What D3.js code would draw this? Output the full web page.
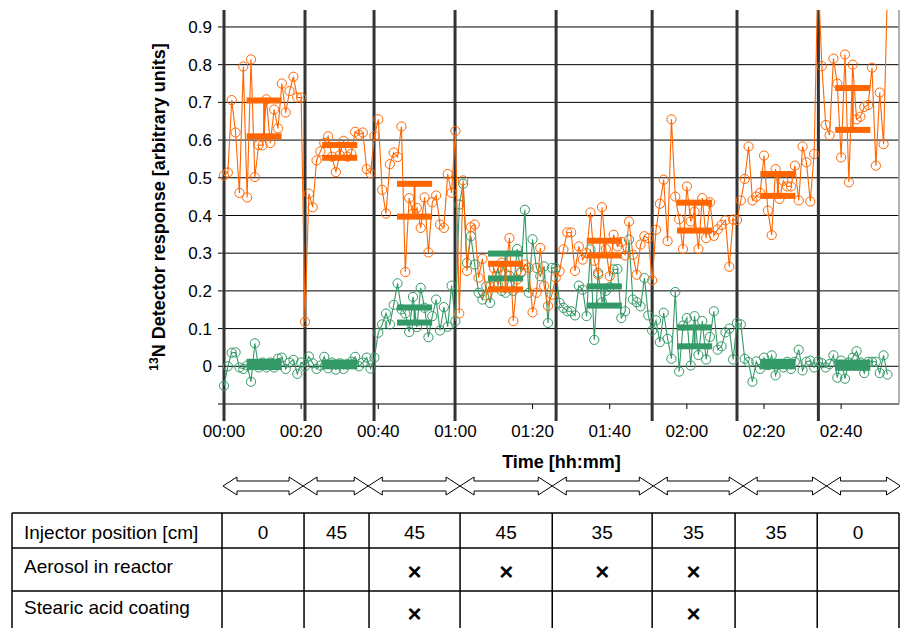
<!DOCTYPE html>
<html>
<head>
<meta charset="utf-8">
<script src="https://cdn.jsdelivr.net/npm/d3@7/dist/d3.min.js"></script>
<style>
  body { margin: 0; background: #fff; }
  svg text { font-family: "Liberation Sans", Arial, sans-serif; fill: #000; }
</style>
</head>
<body>
<div id="chart"></div>
<script>
// detector readings, one sample per minute starting at 00:00
var orangeSeries = [
  0.506, 0.514, 0.706, 0.62, 0.46, 0.795, 0.448, 0.814, 0.502, 0.587,
  0.586, 0.708, 0.592, 0.681, 0.631, 0.75, 0.673, 0.73, 0.768, 0.713,
  0.713, 0.118, 0.458, 0.422, 0.546, 0.57, 0.592, 0.61, 0.556, 0.515,
  0.56, 0.598, 0.556, 0.564, 0.622, 0.614, 0.62, 0.523, 0.512, 0.611,
  0.655, 0.468, 0.405, 0.536, 0.567, 0.555, 0.636, 0.25, 0.446, 0.405,
  0.42, 0.367, 0.448, 0.302, 0.435, 0.453, 0.376, 0.367, 0.51, 0.46,
  0.624, 0.14, 0.493, 0.253, 0.369, 0.376, 0.235, 0.285, 0.188, 0.212,
  0.26, 0.215, 0.275, 0.245, 0.34, 0.12, 0.23, 0.248, 0.27, 0.261,
  0.143, 0.195, 0.314, 0.213, 0.16, 0.19, 0.235, 0.252, 0.31, 0.355,
  0.355, 0.253, 0.318, 0.283, 0.3, 0.408, 0.28, 0.243, 0.422, 0.311,
  0.239, 0.349, 0.318, 0.33, 0.294, 0.384, 0.296, 0.243, 0.323, 0.345,
  0.34, 0.228, 0.362, 0.431, 0.495, 0.332, 0.655, 0.45, 0.39, 0.311,
  0.477, 0.384, 0.41, 0.311, 0.446, 0.34, 0.435, 0.346, 0.363, 0.375,
  0.387, 0.264, 0.389, 0.388, 0.44, 0.497, 0.583, 0.44, 0.45, 0.46,
  0.559, 0.413, 0.348, 0.523, 0.444, 0.492, 0.477, 0.477, 0.532, 0.44,
  0.583, 0.541, 0.437, 0.563, 1.05, 0.796, 0.64, 0.613, 0.816, 0.75,
  0.554, 0.827, 0.488, 0.8, 0.655, 0.662, 0.688, 0.693, 0.792, 0.532,
  0.726, 0.589, 1.0
];
var greenSeries = [
  -0.052, 0.0, 0.036, 0.037, -0.003, -0.007, 0.002, -0.041, 0.061, -0.003,
  0.01, -0.003, 0.01, -0.003, 0.02, 0.023, -0.007, 0.01, 0.017, -0.02,
  0.01, 0.0, 0.026, 0.008, -0.007, 0.002, 0.025, -0.005, 0.01, -0.009,
  0.008, -0.007, 0.005, 0.012, 0.025, 0.0, 0.01, 0.023, -0.006, 0.023,
  0.089, 0.111, 0.14, 0.111, 0.163, 0.22, 0.151, 0.14, 0.091, 0.184,
  0.104, 0.208, 0.155, 0.077, 0.133, 0.177, 0.095, 0.157, 0.105, 0.214,
  0.12, 0.429, 0.484, 0.274, 0.345, 0.27, 0.195, 0.177, 0.212, 0.168,
  0.22, 0.261, 0.2, 0.195, 0.24, 0.2, 0.311, 0.25, 0.415, 0.195,
  0.337, 0.261, 0.239, 0.265, 0.115, 0.261, 0.261, 0.168, 0.155, 0.146,
  0.146, 0.135, 0.214, 0.203, 0.133, 0.31, 0.07, 0.248, 0.17, 0.2,
  0.21, 0.257, 0.258, 0.128, 0.146, 0.336, 0.177, 0.17, 0.159, 0.234,
  0.135, 0.095, 0.122, 0.064, 0.142, 0.073, 0.02, 0.197, -0.014, 0.108,
  0.128, 0.002, 0.133, 0.03, 0.12, 0.018, 0.078, 0.146, 0.044, 0.053,
  0.09, 0.1, 0.018, 0.115, 0.111, 0.02, 0.011, -0.041, 0.013, -0.007,
  0.023, 0.003, 0.029, -0.024, 0.005, -0.003, 0.012, -0.007, 0.012, 0.044,
  -0.011, 0.012, 0.015, -0.003, 0.013, 0.008, -0.003, 0.006, 0.029, -0.03,
  0.015, -0.033, 0.01, 0.023, 0.04, 0.01, -0.018, 0.012, 0.012, 0.012,
  -0.018, 0.029, -0.022
];

// mean +/- spread per condition (minutes)
var barCenters = [10.4, 30, 49.4, 73, 98.6, 122, 143.6, 163];
var orangeHigh = [0.705, 0.587, 0.484, 0.272, 0.333, 0.434, 0.51, 0.738];
var orangeLow  = [0.61, 0.553, 0.397, 0.204, 0.294, 0.36, 0.452, 0.627];
var greenHigh  = [0.012, 0.01, 0.156, 0.299, 0.212, 0.103, 0.012, 0.01];
var greenLow   = [-0.002, 0.0, 0.116, 0.233, 0.161, 0.053, 0.0, -0.004];

var separators = [0, 21, 38.9, 59.9, 86.1, 111, 133, 154.1];
var yTicks = [-0.1, 0, 0.1, 0.2, 0.3, 0.4, 0.5, 0.6, 0.7, 0.8, 0.9];
var xTicks = [0, 20, 40, 60, 80, 100, 120, 140, 160];
var xTickLabels = ["00:00", "00:20", "00:40", "01:00", "01:20", "01:40", "02:00", "02:20", "02:40"];

var arrowEdges = [-0.26, 20.5, 37.4, 61.2, 85.1, 111.3, 134.6, 156.2, 175.4];
var tableEdges = [-0.52, 20.75, 37.6, 61.2, 85.1, 111, 132.5, 153.8, 175];
var rowLabels = ["Injector position [cm]", "Aerosol in reactor", "Stearic acid coating"];
var injectorPos = ["0", "45", "45", "45", "35", "35", "35", "0"];
var aerosol = [0, 0, 1, 1, 1, 1, 0, 0];
var coating = [0, 0, 1, 0, 0, 1, 0, 0];

var W = 900, H = 628;
var orange = "#ff6600", green = "#339966";

var svg = d3.select("#chart").append("svg")
    .attr("width", W)
    .attr("height", H);

var x = d3.scaleLinear().domain([0, 175]).range([224, 899]);
var y = d3.scaleLinear().domain([-0.1, 0.945]).range([404, 10]);

// only the top edge cuts the data
svg.append("clipPath").attr("id", "plotclip")
  .append("rect")
    .attr("x", 0).attr("y", y(0.945))
    .attr("width", W).attr("height", H);

// horizontal grid + y labels
svg.append("g").selectAll("line")
  .data(yTicks)
  .enter().append("line")
    .attr("x1", x(0) - 6).attr("x2", x(175))
    .attr("y1", function(d) { return y(d); })
    .attr("y2", function(d) { return y(d); })
    .attr("stroke", "#000").attr("stroke-width", 1);

svg.append("g").selectAll("text")
  .data(yTicks.filter(function(d) { return d >= 0; }))
  .enter().append("text")
    .attr("x", 212)
    .attr("y", function(d) { return y(d); })
    .attr("dy", "0.36em")
    .attr("text-anchor", "end")
    .style("font-size", "17px")
    .text(function(d) { return d === 0 ? "0" : d.toFixed(1); });

// right frame
svg.append("line")
    .attr("x1", x(175)).attr("x2", x(175))
    .attr("y1", y(0.945)).attr("y2", y(-0.1))
    .attr("stroke", "#999").attr("stroke-width", 1.5);

// x ticks
svg.append("g").selectAll("line")
  .data(xTicks)
  .enter().append("line")
    .attr("x1", function(d) { return x(d); })
    .attr("x2", function(d) { return x(d); })
    .attr("y1", y(-0.1)).attr("y2", y(-0.1) + 5)
    .attr("stroke", "#000");

svg.append("g").selectAll("text")
  .data(xTicks)
  .enter().append("text")
    .attr("x", function(d) { return x(d); })
    .attr("y", 437)
    .attr("text-anchor", "middle")
    .style("font-size", "17px")
    .text(function(d, i) { return xTickLabels[i]; });

// condition change markers
svg.append("g").selectAll("line")
  .data(separators)
  .enter().append("line")
    .attr("x1", function(d) { return x(d); })
    .attr("x2", function(d) { return x(d); })
    .attr("y1", y(0.945)).attr("y2", 421)
    .attr("stroke", "#333").attr("stroke-width", 3);

// series
var plot = svg.append("g").attr("clip-path", "url(#plotclip)");

function drawSeries(values, color) {
    var line = d3.line()
        .x(function(d, i) { return x(i); })
        .y(function(d) { return y(d); });

    plot.append("path")
        .datum(values)
        .attr("d", line)
        .attr("fill", "none")
        .attr("stroke", color)
        .attr("stroke-width", 1.1);

    plot.append("g").selectAll("circle")
      .data(values)
      .enter().append("circle")
        .attr("cx", function(d, i) { return x(i); })
        .attr("cy", function(d) { return y(d); })
        .attr("r", 4.6)
        .attr("fill", "none")
        .attr("stroke", color)
        .attr("stroke-width", 1);
}

function drawBars(high, low, color) {
    var half = 4.55;
    var g = plot.append("g");
    g.selectAll("line")
      .data(barCenters)
      .enter().append("line")
        .attr("x1", function(d) { return x(d); })
        .attr("x2", function(d) { return x(d); })
        .attr("y1", function(d, i) { return y(high[i]); })
        .attr("y2", function(d, i) { return y(low[i]); })
        .attr("stroke", color).attr("stroke-width", 2);
    [high, low].forEach(function(arr) {
        g.append("g").selectAll("rect")
          .data(barCenters)
          .enter().append("rect")
            .attr("x", function(d) { return x(d - half); })
            .attr("width", function(d) { return x(d + half) - x(d - half); })
            .attr("y", function(d, i) { return y(arr[i]) - 3; })
            .attr("height", 6)
            .attr("fill", color);
    });
}

drawSeries(greenSeries, green);
drawSeries(orangeSeries, orange);
drawBars(greenHigh, greenLow, green);
drawBars(orangeHigh, orangeLow, orange);

// axis titles
svg.append("text")
    .attr("x", (x(0) + x(175)) / 2)
    .attr("y", 468)
    .attr("text-anchor", "middle")
    .style("font-size", "18px")
    .style("font-weight", "bold")
    .text("Time [hh:mm]");

var yt = svg.append("text")
    .attr("transform", "translate(165," + 207 + ") rotate(-90)")
    .attr("text-anchor", "middle")
    .style("font-size", "18px")
    .style("font-weight", "bold");
yt.append("tspan").attr("baseline-shift", "super").style("font-size", "12px").text("13");
yt.append("tspan").text("N Detector response [arbitrary units]");

// double arrows for each period
var ay = 486, headH = 9, shaftH = 5, headL = 14;
svg.append("g").selectAll("path")
  .data(d3.pairs(arrowEdges))
  .enter().append("path")
    .attr("d", function(p) {
        var a = x(p[0]), b = x(p[1]);
        return "M" + a + "," + ay +
            "L" + (a + headL) + "," + (ay - headH) +
            "L" + (a + headL) + "," + (ay - shaftH) +
            "L" + (b - headL) + "," + (ay - shaftH) +
            "L" + (b - headL) + "," + (ay - headH) +
            "L" + b + "," + ay +
            "L" + (b - headL) + "," + (ay + headH) +
            "L" + (b - headL) + "," + (ay + shaftH) +
            "L" + (a + headL) + "," + (ay + shaftH) +
            "L" + (a + headL) + "," + (ay + headH) + "Z";
    })
    .attr("fill", "none")
    .attr("stroke", "#000")
    .attr("stroke-width", 1);

// conditions table
var rowY = [513, 548, 591, 634];
var tableLeft = 12;
var tg = svg.append("g");

tg.selectAll("line.h")
  .data(rowY)
  .enter().append("line")
    .attr("class", "h")
    .attr("x1", tableLeft).attr("x2", x(175))
    .attr("y1", function(d) { return d; })
    .attr("y2", function(d) { return d; })
    .attr("stroke", "#000").attr("stroke-width", 1.5);

tg.selectAll("line.v")
  .data([null].concat(tableEdges))
  .enter().append("line")
    .attr("class", "v")
    .attr("x1", function(d) { return d === null ? tableLeft : x(d); })
    .attr("x2", function(d) { return d === null ? tableLeft : x(d); })
    .attr("y1", rowY[0]).attr("y2", rowY[3])
    .attr("stroke", "#000").attr("stroke-width", 1.5);

var baselines = [539, 573, 614];
tg.selectAll("text.lab")
  .data(rowLabels)
  .enter().append("text")
    .attr("class", "lab")
    .attr("x", 24)
    .attr("y", function(d, i) { return baselines[i]; })
    .style("font-size", "19px")
    .text(function(d) { return d; });

var mids = d3.pairs(tableEdges).map(function(p) { return (x(p[0]) + x(p[1])) / 2; });

tg.selectAll("text.pos")
  .data(injectorPos)
  .enter().append("text")
    .attr("class", "pos")
    .attr("x", function(d, i) { return mids[i]; })
    .attr("y", baselines[0])
    .attr("text-anchor", "middle")
    .style("font-size", "19px")
    .text(function(d) { return d; });

[aerosol, coating].forEach(function(row, r) {
    var marked = [];
    row.forEach(function(v, i) { if (v === 1) marked.push(i); });
    tg.append("g").selectAll("text")
      .data(marked)
      .enter().append("text")
        .attr("x", function(i) { return mids[i]; })
        .attr("y", [580, 622][r])
        .attr("text-anchor", "middle")
        .style("font-size", "24px")
        .style("font-weight", "bold")
        .text("×");
});
</script>
</body>
</html>
